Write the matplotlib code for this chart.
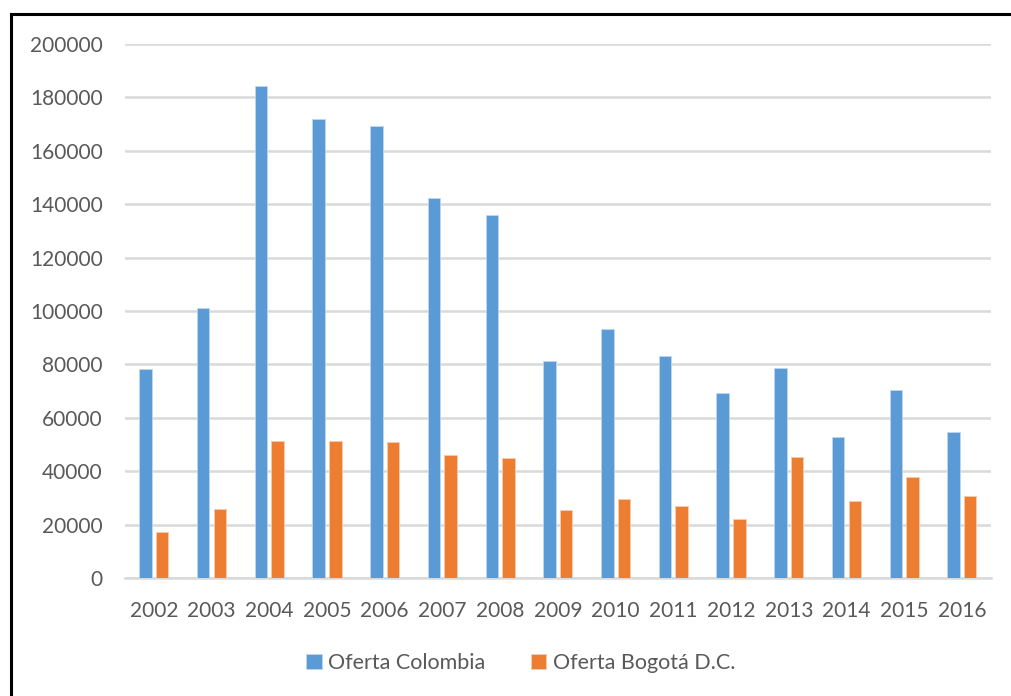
import matplotlib
matplotlib.use("Agg")
import matplotlib.pyplot as plt
from matplotlib.lines import Line2D
from matplotlib.patches import Patch
import numpy as np

plt.rcParams['font.family'] = ['Lato', 'DejaVu Sans']

years = ["2002", "2003", "2004", "2005", "2006", "2007", "2008", "2009",
         "2010", "2011", "2012", "2013", "2014", "2015", "2016"]
oferta_colombia = [78100, 101100, 184300, 172000, 169100, 142500, 135800, 81400,
                   93400, 83200, 69300, 78500, 52900, 70300, 54800]
oferta_bogota = [17300, 25900, 51500, 51500, 51000, 45900, 45100, 25300,
                 29700, 26800, 22000, 45200, 28700, 38000, 30600]
y_ticks = [0, 20000, 40000, 60000, 80000, 100000, 120000, 140000,
           160000, 180000, 200000]

blue = "#5B9BD5"
orange = "#ED7D31"
text_grey = "#595959"
grid_grey = "#D9D9D9"

fig = plt.figure(figsize=(10.11, 6.96), dpi=100)
ax = fig.add_axes([0.1236, 0.1695, 0.98 - 0.1236, 0.9368 - 0.1695])

x = np.arange(len(years))
w = 0.217
off = 0.144
ax.bar(x - off, oferta_colombia, width=w, color=blue, edgecolor="#BDD7EE",
       linewidth=0.6, zorder=3)
ax.bar(x + off, oferta_bogota, width=w, color=orange, edgecolor="#F8CBAD",
       linewidth=0.6, zorder=3)

ax.set_xlim(-0.5, len(years) - 0.5)
ax.set_ylim(0, 200000)
ax.set_yticks(y_ticks)
ax.set_yticklabels([str(v) for v in y_ticks])
ax.set_xticks(x)
ax.set_xticklabels(years)

ax.yaxis.grid(True, color=grid_grey, linewidth=1.8, zorder=0)
ax.set_axisbelow(True)
for s in ["top", "right", "left"]:
    ax.spines[s].set_visible(False)
ax.spines["bottom"].set_color(grid_grey)
ax.spines["bottom"].set_linewidth(1.8)
ax.tick_params(axis="both", length=0, labelsize=15, labelcolor=text_grey)
ax.tick_params(axis="y", pad=16)
ax.tick_params(axis="x", pad=16.5)

handles = [Patch(facecolor=blue, edgecolor="#BDD7EE", linewidth=0.6),
           Patch(facecolor=orange, edgecolor="#F8CBAD", linewidth=0.6)]
fig.legend(handles, ["Oferta Colombia", "Oferta Bogotá D.C."],
           loc="center", bbox_to_anchor=(0.515, 0.047), ncol=2, frameon=False,
           fontsize=15.5, labelcolor=text_grey, handlelength=0.72,
           handleheight=0.72, handletextpad=0.3, columnspacing=2.1)

# outer frame lines (top and left edges)
fig.add_artist(Line2D([11 / 1011, 1.0], [1 - 14 / 696, 1 - 14 / 696],
                      transform=fig.transFigure, color="black", linewidth=2.2))
fig.add_artist(Line2D([11 / 1011, 11 / 1011], [0.0, 1 - 14 / 696],
                      transform=fig.transFigure, color="black", linewidth=2.2))

fig.savefig("out.png", dpi=100)
